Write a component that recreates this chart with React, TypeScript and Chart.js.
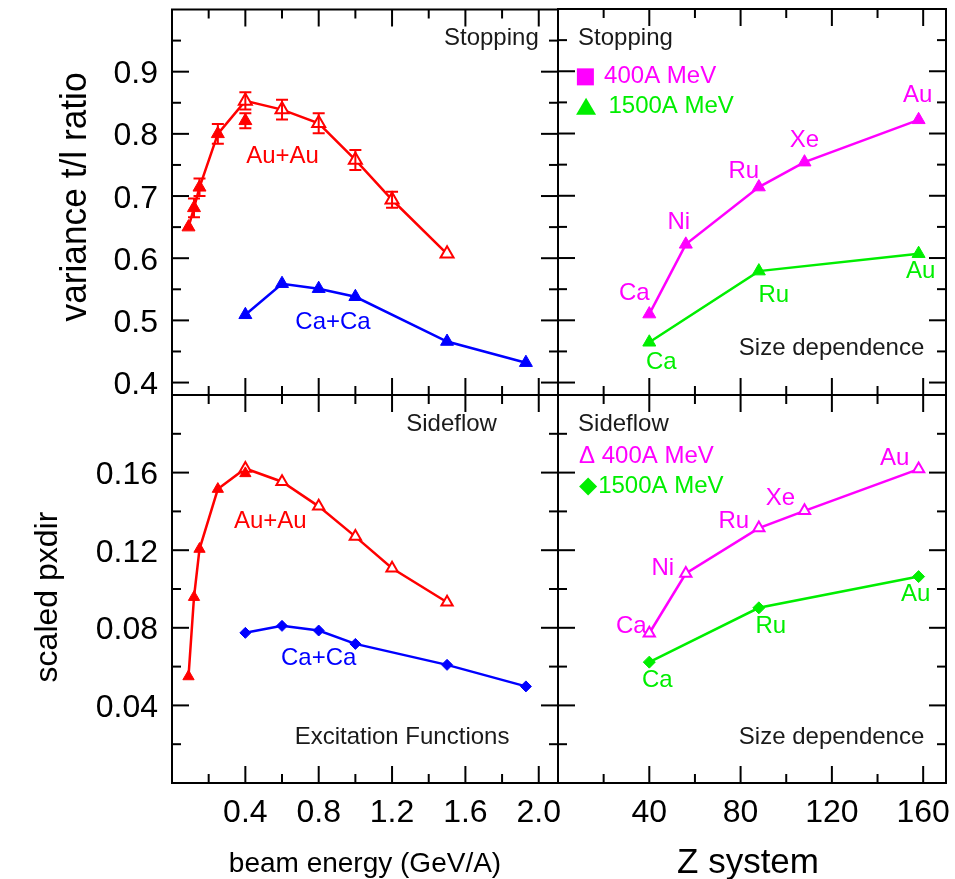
import React, { useEffect, useRef } from 'react';
import { Chart, registerables } from 'chart.js';

Chart.register(...registerables);

// ---------------- data ----------------
// Excitation functions (beam energy in GeV/A)
const auFilledE = [0.09, 0.12, 0.15, 0.25, 0.4];
const auFilledStop = [0.65, 0.681, 0.714, 0.8, 0.821];
const auFilledStopErr = [0, 0.015, 0.014, 0.016, 0.012];
const auOpenE = [0.4, 0.6, 0.8, 1.0, 1.2, 1.5];
const auOpenStop = [0.853, 0.839, 0.817, 0.758, 0.694, 0.607];
const auOpenStopErr = [0.014, 0.016, 0.016, 0.016, 0.013, 0];
const auFilledFlow = [0.0549, 0.0958, 0.1206, 0.1515, 0.1596];
const auOpenFlow = [0.1621, 0.1553, 0.1426, 0.127, 0.1107, 0.0932];

const caE = [0.4, 0.6, 0.8, 1.0, 1.5, 1.93];
const caStop = [0.509, 0.559, 0.551, 0.538, 0.466, 0.432];
const caFlow = [0.0774, 0.081, 0.0786, 0.0717, 0.0609, 0.0498];

// Size dependence (Z of system)
const z400 = [40, 56, 88, 108, 158];
const z400Names = ['Ca', 'Ni', 'Ru', 'Xe', 'Au'];
const stop400 = [0.51, 0.622, 0.714, 0.754, 0.822];
const flow400 = [0.0772, 0.108, 0.1314, 0.1403, 0.1618];

const z1500 = [40, 88, 158];
const z1500Names = ['Ca', 'Ru', 'Au'];
const stop1500 = [0.4647, 0.579, 0.607];
const flow1500 = [0.0623, 0.0903, 0.1064];

// ticks
const stopMajor = [0.4, 0.5, 0.6, 0.7, 0.8, 0.9];
const stopMajorLabels = ['0.4', '0.5', '0.6', '0.7', '0.8', '0.9'];
const stopMinor = [0.45, 0.55, 0.65, 0.75, 0.85, 0.95];
const flowMajor = [0.04, 0.08, 0.12, 0.16];
const flowMajorLabels = ['0.04', '0.08', '0.12', '0.16'];
const flowMinor = [0.02, 0.06, 0.1, 0.14, 0.18];
const energyMajor = [0.4, 0.8, 1.2, 1.6, 2.0];
const energyMajorLabels = ['0.4', '0.8', '1.2', '1.6', '2.0'];
const energyMinor = [0.2, 0.6, 1.0, 1.4, 1.8];
const zMajor = [40, 80, 120, 160];
const zMajorLabels = ['40', '80', '120', '160'];
const zMinor = [20, 60, 100, 140];

// ---------------- layout / style ----------------
const W = 955;
const H = 879;
const PL = 172, PM = 558, PR = 946, PT = 9, PMID = 395, PB = 783;
const FONT = "'Liberation Sans', Arial, Helvetica, sans-serif";
const RED = '#ff0000';
const BLUE = '#0000ff';
const MAG = '#ff00ff';
const GRN = '#00ee00';
const DARK = '#1a1a1a';

const zip = (xs: number[], ys: number[]) => xs.map((x, i) => ({ x, y: ys[i] }));

// offsets of point-name labels (pixels)
const tr400Off = [[-15, -21], [-7, -22], [-15, -16], [0, -22], [-1, -24]];
const tr1500Off = [[12, 20], [15, 24], [2, 18]];
const br400Off = [[-18, -7], [-23, -5], [-25, -7], [-24, -12], [-24, -11]];
const br1500Off = [[8, 18], [12, 19], [-3, 18]];

function txt(ctx: CanvasRenderingContext2D, s: string, x: number, y: number, size: number, color: string,
  align: CanvasTextAlign = 'left', baseline: CanvasTextBaseline = 'middle', rot = 0, sx = 1) {
  ctx.save();
  ctx.font = `${size}px ${FONT}`;
  ctx.fillStyle = color;
  ctx.textAlign = align;
  ctx.textBaseline = baseline;
  ctx.translate(x, y);
  if (rot) ctx.rotate(rot);
  if (sx !== 1) ctx.scale(sx, 1);
  ctx.fillText(s, 0, 0);
  ctx.restore();
}

type Spec = {
  name: string;
  xMajor: number[]; xMinor: number[]; xLabels?: string[];
  yMajor: number[]; yMinor: number[]; yLabels?: string[];
  errorBars?: { xs: number[]; ys: number[]; errs: number[]; color: string }[];
  texts?: { s: string; x: number; y: number; color: string; align: CanvasTextAlign }[];
  pointLabels?: { xs: number[]; ys: number[]; names: string[]; off: number[][]; color: string }[];
  extra?: (ctx: CanvasRenderingContext2D, chart: any) => void;
};

function makePlugin(spec: Spec) {
  return {
    id: 'panel_' + spec.name,
    afterDatasetsDraw(chart: any) {
      const ctx: CanvasRenderingContext2D = chart.ctx;
      const xs = chart.scales.x, ys = chart.scales.y;
      (spec.errorBars || []).forEach((eb) => {
        ctx.save();
        ctx.strokeStyle = eb.color;
        ctx.lineWidth = 2;
        eb.xs.forEach((xv, i) => {
          const e = eb.errs[i];
          if (!e) return;
          const px = xs.getPixelForValue(xv);
          const p1 = ys.getPixelForValue(eb.ys[i] + e);
          const p2 = ys.getPixelForValue(eb.ys[i] - e);
          ctx.beginPath();
          ctx.moveTo(px, p1); ctx.lineTo(px, p2);
          ctx.moveTo(px - 6, p1); ctx.lineTo(px + 6, p1);
          ctx.moveTo(px - 6, p2); ctx.lineTo(px + 6, p2);
          ctx.stroke();
        });
        ctx.restore();
      });
    },
    afterDraw(chart: any) {
      const ctx: CanvasRenderingContext2D = chart.ctx;
      const { left, top, right, bottom } = chart.chartArea;
      const xs = chart.scales.x, ys = chart.scales.y;
      ctx.save();
      ctx.strokeStyle = '#000';
      ctx.lineWidth = 2;
      ctx.strokeRect(left, top, right - left, bottom - top);
      const seg = (a: number, b: number, c: number, d: number) => {
        ctx.beginPath(); ctx.moveTo(a, b); ctx.lineTo(c, d); ctx.stroke();
      };
      const BIG = 17, SMALL = 9;
      const xSets: [number[], number][] = [[spec.xMajor, BIG], [spec.xMinor, SMALL]];
      xSets.forEach(([vals, len]) => vals.forEach((v) => {
        const px = xs.getPixelForValue(v);
        seg(px, top, px, top + len);
        seg(px, bottom, px, bottom - len);
      }));
      const ySets: [number[], number][] = [[spec.yMajor, BIG], [spec.yMinor, SMALL]];
      ySets.forEach(([vals, len]) => vals.forEach((v) => {
        const py = ys.getPixelForValue(v);
        seg(left, py, left + len, py);
        seg(right, py, right - len, py);
      }));
      ctx.restore();

      if (spec.yLabels) spec.yMajor.forEach((v, i) =>
        txt(ctx, spec.yLabels![i], left - 14, ys.getPixelForValue(v) + 11.5, 32, '#000', 'right', 'alphabetic'));
      if (spec.xLabels) spec.xMajor.forEach((v, i) =>
        txt(ctx, spec.xLabels![i], xs.getPixelForValue(v), bottom + 39, 32, '#000', 'center', 'alphabetic'));

      (spec.texts || []).forEach((t) =>
        txt(ctx, t.s, xs.getPixelForValue(t.x), ys.getPixelForValue(t.y), 24, t.color, t.align, 'middle'));
      (spec.pointLabels || []).forEach((pl) => pl.names.forEach((n, i) => {
        const px = xs.getPixelForValue(pl.xs[i]) + pl.off[i][0];
        const py = ys.getPixelForValue(pl.ys[i]) + pl.off[i][1];
        txt(ctx, n, px, py, 24, pl.color, 'center', 'middle');
      }));
      if (spec.extra) spec.extra(ctx, chart);
    },
  };
}

function lineDs(data: any[], color: string) {
  return { data, showLine: true, borderColor: color, borderWidth: 2.5, pointRadius: 0, order: 2, fill: false };
}
function markDs(data: any[], color: string, style: string, r: number, open = false) {
  return {
    data, showLine: false, pointStyle: style, pointRadius: r,
    backgroundColor: open ? '#ffffff' : color, borderColor: color, borderWidth: open ? 2 : 1, order: 1,
  };
}

function buildConfig(rect: number[], xr: number[], yr: number[], datasets: any[], spec: Spec) {
  const [l, t, r, b] = rect;
  return {
    type: 'scatter' as const,
    data: { datasets },
    options: {
      responsive: false,
      animation: false as const,
      events: [] as any[],
      layout: { padding: { left: l, top: t, right: W - r, bottom: H - b } },
      scales: {
        x: { type: 'linear' as const, min: xr[0], max: xr[1], display: false },
        y: { type: 'linear' as const, min: yr[0], max: yr[1], display: false },
      },
      plugins: { legend: { display: false }, tooltip: { enabled: false } },
    },
    plugins: [makePlugin(spec)],
  };
}

const auStopLine = [...zip(auFilledE.slice(0, 4), auFilledStop.slice(0, 4)), ...zip(auOpenE, auOpenStop)];
const auFlowLine = [...zip(auFilledE.slice(0, 4), auFilledFlow.slice(0, 4)), ...zip(auOpenE, auOpenFlow)];

function configs() {
  const E_RANGE = [0, 2.105];
  const Z_RANGE = [0, 170];
  const S_RANGE = [0.38, 1.0];
  const F_RANGE = [0, 0.2];

  const tl = buildConfig([PL, PT, PM, PMID], E_RANGE, S_RANGE, [
    markDs(zip(auFilledE, auFilledStop), RED, 'triangle', 7.5),
    markDs(zip(auOpenE, auOpenStop), RED, 'triangle', 7.5, true),
    markDs(zip(caE, caStop), BLUE, 'triangle', 7.5),
    lineDs(auStopLine, RED),
    lineDs(zip(caE, caStop), BLUE),
  ], {
    name: 'tl',
    xMajor: energyMajor, xMinor: energyMinor,
    yMajor: stopMajor, yMinor: stopMinor, yLabels: stopMajorLabels,
    errorBars: [
      { xs: auFilledE, ys: auFilledStop, errs: auFilledStopErr, color: RED },
      { xs: auOpenE, ys: auOpenStop, errs: auOpenStopErr, color: RED },
    ],
    texts: [
      { s: 'Stopping', x: 2.0, y: 0.953, color: DARK, align: 'right' },
      { s: 'Au+Au', x: 0.603, y: 0.763, color: RED, align: 'center' },
      { s: 'Ca+Ca', x: 0.878, y: 0.496, color: BLUE, align: 'center' },
    ],
    extra: (ctx) => {
      txt(ctx, 'variance t/l ratio', 76, 197, 36, '#000', 'center', 'middle', -Math.PI / 2, 0.98);
    },
  });

  const tr = buildConfig([PM, PT, PR, PMID], Z_RANGE, S_RANGE, [
    markDs(zip(z400, stop400), MAG, 'triangle', 7.5),
    markDs(zip(z1500, stop1500), GRN, 'triangle', 7.5),
    lineDs(zip(z400, stop400), MAG),
    lineDs(zip(z1500, stop1500), GRN),
  ], {
    name: 'tr',
    xMajor: zMajor, xMinor: zMinor,
    yMajor: stopMajor, yMinor: stopMinor,
    texts: [
      { s: 'Stopping', x: 8.8, y: 0.953, color: DARK, align: 'left' },
      { s: '400A MeV', x: 20.2, y: 0.891, color: MAG, align: 'left' },
      { s: '1500A MeV', x: 22.1, y: 0.843, color: GRN, align: 'left' },
      { s: 'Size dependence', x: 160.5, y: 0.455, color: DARK, align: 'right' },
    ],
    pointLabels: [
      { xs: z400, ys: stop400, names: z400Names, off: tr400Off, color: MAG },
      { xs: z1500, ys: stop1500, names: z1500Names, off: tr1500Off, color: GRN },
    ],
    extra: (ctx, chart) => {
      const xs = chart.scales.x, ys = chart.scales.y;
      const sx = xs.getPixelForValue(12), sy = ys.getPixelForValue(0.891);
      ctx.save();
      ctx.fillStyle = MAG;
      ctx.fillRect(sx - 8.5, sy - 8.5, 17, 17);
      const tx = xs.getPixelForValue(12.3), ty = ys.getPixelForValue(0.843);
      ctx.fillStyle = GRN;
      ctx.beginPath();
      ctx.moveTo(tx, ty - 9); ctx.lineTo(tx + 10, ty + 8); ctx.lineTo(tx - 10, ty + 8); ctx.closePath();
      ctx.fill();
      ctx.restore();
    },
  });

  const bl = buildConfig([PL, PMID, PM, PB], E_RANGE, F_RANGE, [
    markDs(zip(auFilledE, auFilledFlow), RED, 'triangle', 6.5),
    markDs(zip(auOpenE, auOpenFlow), RED, 'triangle', 6.5, true),
    markDs(zip(caE, caFlow), BLUE, 'rectRot', 5.5),
    lineDs(auFlowLine, RED),
    lineDs(zip(caE, caFlow), BLUE),
  ], {
    name: 'bl',
    xMajor: energyMajor, xMinor: energyMinor, xLabels: energyMajorLabels,
    yMajor: flowMajor, yMinor: flowMinor, yLabels: flowMajorLabels,
    texts: [
      { s: 'Sideflow', x: 1.772, y: 0.1847, color: DARK, align: 'right' },
      { s: 'Au+Au', x: 0.536, y: 0.1347, color: RED, align: 'center' },
      { s: 'Ca+Ca', x: 0.8, y: 0.0642, color: BLUE, align: 'center' },
      { s: 'Excitation Functions', x: 1.84, y: 0.0237, color: DARK, align: 'right' },
    ],
    extra: (ctx, chart) => {
      const { left, right, top, bottom } = chart.chartArea;
      txt(ctx, 'scaled pxdir', 48, (top + bottom) / 2 + 8, 32, '#000', 'center', 'middle', -Math.PI / 2);
      txt(ctx, 'beam energy (GeV/A)', (left + right) / 2, bottom + 89, 28, '#000', 'center', 'alphabetic');
    },
  });

  const br = buildConfig([PM, PMID, PR, PB], Z_RANGE, F_RANGE, [
    markDs(zip(z400, flow400), MAG, 'triangle', 6.5, true),
    markDs(zip(z1500, flow1500), GRN, 'rectRot', 6),
    lineDs(zip(z400, flow400), MAG),
    lineDs(zip(z1500, flow1500), GRN),
  ], {
    name: 'br',
    xMajor: zMajor, xMinor: zMinor, xLabels: zMajorLabels,
    yMajor: flowMajor, yMinor: flowMinor,
    texts: [
      { s: 'Sideflow', x: 8.8, y: 0.1847, color: DARK, align: 'left' },
      { s: '\u0394 400A MeV', x: 9.2, y: 0.1683, color: MAG, align: 'left' },
      { s: '1500A MeV', x: 17.6, y: 0.1528, color: GRN, align: 'left' },
      { s: 'Size dependence', x: 160.5, y: 0.0237, color: DARK, align: 'right' },
    ],
    pointLabels: [
      { xs: z400, ys: flow400, names: z400Names, off: br400Off, color: MAG },
      { xs: z1500, ys: flow1500, names: z1500Names, off: br1500Off, color: GRN },
    ],
    extra: (ctx, chart) => {
      const xs = chart.scales.x, ys = chart.scales.y;
      const dx = xs.getPixelForValue(13.2), dy = ys.getPixelForValue(0.1528);
      ctx.save();
      ctx.fillStyle = GRN;
      ctx.beginPath();
      ctx.moveTo(dx, dy - 9); ctx.lineTo(dx + 9, dy); ctx.lineTo(dx, dy + 9); ctx.lineTo(dx - 9, dy); ctx.closePath();
      ctx.fill();
      ctx.restore();
      const { left, right, bottom } = chart.chartArea;
      txt(ctx, 'Z system', (left + right) / 2 - 4, bottom + 90, 35, '#000', 'center', 'alphabetic');
    },
  });
  return [tl, tr, bl, br];
}

export default function App() {
  const refs = [useRef<HTMLCanvasElement>(null), useRef<HTMLCanvasElement>(null),
    useRef<HTMLCanvasElement>(null), useRef<HTMLCanvasElement>(null)];
  useEffect(() => {
    const cfgs = configs();
    const charts = cfgs.map((c, i) => new Chart(refs[i].current as HTMLCanvasElement, c as any));
    return () => charts.forEach((c) => c.destroy());
  }, []);
  return (
    <div style={{ position: 'fixed', left: 0, top: 0, width: W, height: H, background: '#fff', overflow: 'hidden' }}>
      {refs.map((r, i) => (
        <canvas key={i} ref={r} width={W} height={H}
          style={{ position: 'absolute', left: 0, top: 0, width: W, height: H, pointerEvents: 'none' }} />
      ))}
    </div>
  );
}
